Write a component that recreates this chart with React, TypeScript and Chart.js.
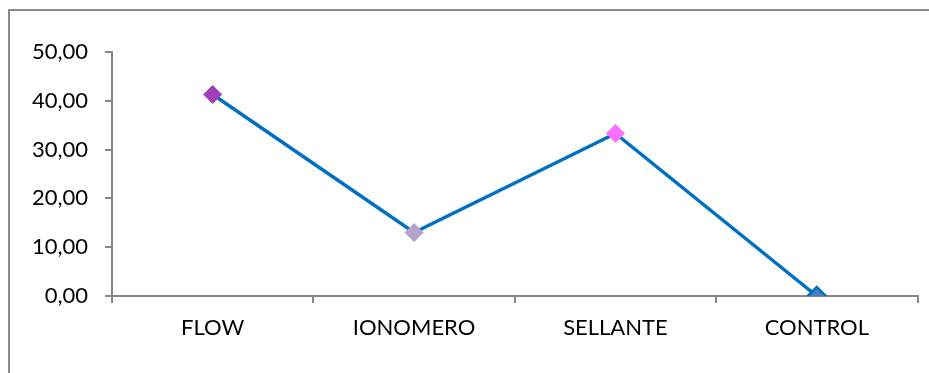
import React, { useEffect, useRef } from "react";
import { Chart, registerables } from "chart.js";

Chart.register(...registerables);

const categories = ["FLOW", "IONOMERO", "SELLANTE", "CONTROL"];
const values = [41.3, 13.0, 33.3, 0.0];
const pointFills = ["#A23EB8", "#B3A2C9", "#FF6FFF", "#4A7EC2"];
const pointBorders = ["#A23EB8", "#B3A2C9", "#FF6FFF", "#0070C0"];
const yTicks = [0, 10, 20, 30, 40, 50];

export default function App() {
  const ref = useRef<HTMLCanvasElement | null>(null);
  useEffect(() => {
    if (!ref.current) return;
    const font = { family: "Lato, 'Open Sans', sans-serif", size: 22 };
    const chart = new Chart(ref.current, {
      type: "line",
      data: {
        labels: categories,
        datasets: [
          {
            data: values,
            borderColor: "#0070C0",
            borderWidth: 3.5,
            tension: 0,
            pointStyle: "rectRot",
            pointRadius: 9,
            pointHoverRadius: 9,
            pointBackgroundColor: pointFills,
            pointBorderColor: pointBorders,
            pointBorderWidth: [1, 1, 1, 2.5],
          },
        ],
      },
      options: {
        animation: false,
        responsive: false,
        devicePixelRatio: 1,
        layout: { padding: { left: 0, right: 9, top: 52, bottom: 0 } },
        plugins: { legend: { display: false }, tooltip: { enabled: false } },
        scales: {
          x: {
            offset: true,
            grid: {
              offset: true,
              drawOnChartArea: false,
              drawTicks: true,
              tickLength: 7,
              color: "#888888",
              lineWidth: 2,
            },
            border: { color: "#888888", width: 2 },
            ticks: { color: "#000", font, padding: 12, maxRotation: 0 },
            afterFit: (s: any) => {
              s.height = 77;
            },
          },
          y: {
            min: 0,
            max: 50,
            afterBuildTicks: (s: any) => {
              s.ticks = yTicks.map((v) => ({ value: v }));
            },
            grid: {
              drawOnChartArea: false,
              drawTicks: true,
              tickLength: 7,
              color: "#888888",
              lineWidth: 2,
            },
            border: { color: "#888888", width: 2 },
            ticks: {
              color: "#000",
              font,
              padding: 17,
              callback: (v: any) => Number(v).toFixed(2).replace(".", ","),
            },
            afterFit: (s: any) => {
              s.width = 112;
            },
          },
        },
      },
    });
    return () => chart.destroy();
  }, []);
  return (
    <div style={{ position: "fixed", left: 0, top: 0, width: 929, height: 373, background: "#fff", overflow: "hidden" }}>
      <div
        style={{
          position: "absolute",
          left: 8,
          top: 9,
          width: 1200,
          height: 1200,
          borderLeft: "2px solid #8a8a8a",
          borderTop: "2px solid #8a8a8a",
        }}
      />
      <canvas ref={ref} width={929} height={373} style={{ position: "absolute", left: 0, top: 0 }} />
    </div>
  );
}
